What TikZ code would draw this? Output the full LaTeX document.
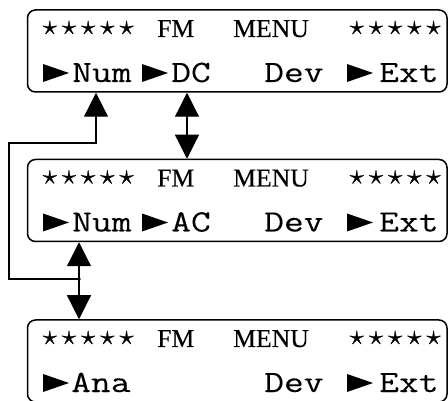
\documentclass[tikz,border=0pt]{standalone}
\usepackage{fontspec}
\setmainfont{Liberation Serif}
\newfontfamily\headfont{Liberation Serif}[FakeBold=0.4]
\newfontfamily\lcdfont{Latin Modern Mono}[FakeStretch=1.24, FakeBold=0.2]
\newfontfamily\starfont{latinmodern-math.otf}[FakeBold=1]
\usepackage{tikz}
\usetikzlibrary{arrows.meta, calc, positioning}

\newcommand{\starrow}{\foreach \k in {1,...,5}{\makebox[19.2pt]{\starfont ⋆}}}

\begin{document}
\begin{tikzpicture}[x=1pt, y=-1pt]

		\tikzstyle{lcdbox}=[draw=black, line width=1.5pt, rounded corners=8pt, minimum width=419.5pt, minimum height=82pt, inner sep=0pt]
		\tikzstyle{lcdtxt}=[anchor=base west, inner sep=0pt, font=\fontsize{31pt}{31pt}\lcdfont]
		\tikzstyle{headtxt}=[anchor=base west, inner sep=0pt, font=\fontsize{25.7pt}{26pt}\headfont]
		\tikzstyle{startxt}=[anchor=base west, inner sep=0pt, font=\fontsize{28pt}{28pt}\selectfont]
		\tikzstyle{link}=[line width=1.2pt, >={Triangle[width=24pt, length=24pt]}]
		\tikzset{pointer/.pic={\fill (0,0) -- (0,-18) -- (26,-9) -- cycle;}}
		
		\useasboundingbox (0,0) rectangle (448,401);
		\clip (0,0) rectangle (448,401);
		
		\node (menu1) at (237.25, 51) [lcdbox] {};
		\node (menu2) at (237.25, 200.5) [lcdbox] {};
		\node (menu3) at (237.25, 361) [lcdbox] {};
		
		%% first display
		\node (st11) at (40, 34.5) [startxt] {\starrow};
		\node (fm1) at (157, 37) [headtxt] {FM};
		\node (mn1) at (233, 37) [headtxt] {MENU};
		\node (st12) at (347, 34.5) [startxt] {\starrow};
		\pic at (43, 82) {pointer};
		\node (num1) at (72, 82) [lcdtxt] {Num};
		\pic at (142, 82) {pointer};
		\node (dc1) at (171, 82) [lcdtxt] {DC};
		\node (dev1) at (264, 82) [lcdtxt] {Dev};
		\pic at (347, 82) {pointer};
		\node (ext1) at (379, 82) [lcdtxt] {Ext};
		
		%% second display
		\node (st21) at (40, 184) [startxt] {\starrow};
		\node (fm2) at (157, 186.5) [headtxt] {FM};
		\node (mn2) at (233, 186.5) [headtxt] {MENU};
		\node (st22) at (347, 184) [startxt] {\starrow};
		\pic at (43, 231.5) {pointer};
		\node (num2) at (72, 231.5) [lcdtxt] {Num};
		\pic at (142, 231.5) {pointer};
		\node (ac2) at (171, 231.5) [lcdtxt] {AC};
		\node (dev2) at (264, 231.5) [lcdtxt] {Dev};
		\pic at (347, 231.5) {pointer};
		\node (ext2) at (379, 231.5) [lcdtxt] {Ext};
		
		%% third display
		\node (st31) at (40, 344.5) [startxt] {\starrow};
		\node (fm3) at (157, 347) [headtxt] {FM};
		\node (mn3) at (233, 347) [headtxt] {MENU};
		\node (st32) at (347, 344.5) [startxt] {\starrow};
		\pic at (43, 392) {pointer};
		\node (ana3) at (71, 392) [lcdtxt] {Ana};
		\node (dev3) at (264, 392) [lcdtxt] {Dev};
		\pic at (347, 392) {pointer};
		\node (ext3) at (379, 392) [lcdtxt] {Ext};
		
		
		\coordinate (j) at (79, 279);
		\coordinate (numup) at (96, 0);
		\coordinate (dcup) at (187, 0);
		
		\draw [link, <->] (dcup |- menu1.south) -- (dcup |- menu2.north);
		\draw [link, ->] (j) -- (j |- menu2.south);
		\draw [link, ->] (j) -- (j |- menu3.north);
		\draw [link, ->] (j) -| (9, 143) -| (numup |- menu1.south);
		\fill (j) circle (1.8);
		
\end{tikzpicture}
\end{document}
